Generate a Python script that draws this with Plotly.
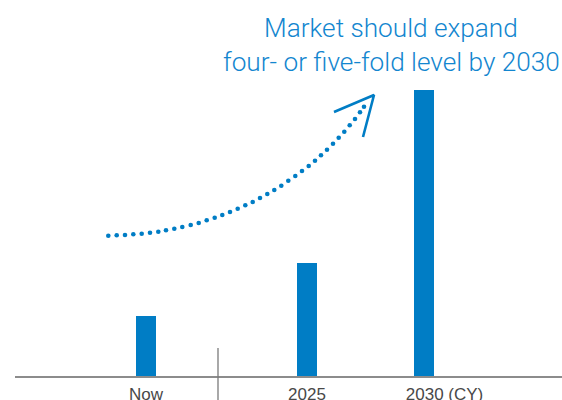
import plotly.graph_objects as go

# ---- data ----
categories = ["Now", "2025", "2030 (CY)"]
x_positions = [2018.12, 2025, 2030]
values = [1.0, 1.87, 4.70]

title_lines = ["Market should expand", "four- or five-fold level by 2030"]

# decorative dotted growth arrow (picture pixel space)
arrow_dots_x = [108.3, 116.7, 125.0, 133.3, 141.7, 150.0, 158.3, 166.0, 174.3, 182.3, 190.7, 198.7,
                206.7, 214.7, 222.3, 230.0, 237.7, 245.3, 252.7, 260.0, 267.3, 274.3, 281.3, 288.3,
                295.3, 302.0, 308.7, 315.0, 321.0, 327.0, 333.0, 338.7, 344.3, 349.7, 355.0, 360.0, 364.0]
arrow_dots_y = [235.7, 235.3, 235.0, 234.3, 233.7, 232.7, 231.7, 230.3, 228.7, 227.0, 225.0, 223.0,
                220.3, 217.7, 215.0, 212.0, 208.7, 205.3, 202.0, 198.0, 194.0, 190.0, 185.7, 180.7,
                176.0, 171.0, 166.0, 160.7, 155.3, 149.7, 143.7, 137.7, 131.7, 125.3, 119.0, 112.3, 106.7]
arrow_head_x = [334, 374, 363]
arrow_head_y = [112, 95, 137]

W, H = 562, 400
BLUE = "#007dc5"
TEXT_BLUE = "#1386cf"

def py(ref_y):            # picture y pixel -> paper fraction
    return 1 - ref_y / H

px_per_year = 117 / 5.0
x0 = 2025 - 307 / px_per_year
x1 = x0 + W / px_per_year
base = 377
px_per_unit = 61.0
y0 = -(H - base) / px_per_unit
y1 = base / px_per_unit

# "2030 (CY)" label: "2030" is centred on the bar, suffix runs to the right
label_shift_px = [0, 0, 20.5]
label_positions = [xp + s / px_per_year for xp, s in zip(x_positions, label_shift_px)]

fig = go.Figure()
fig.add_trace(go.Bar(
    x=x_positions, y=values, width=20 / px_per_year,
    marker=dict(color=BLUE, line=dict(width=0)),
    hoverinfo="skip", showlegend=False,
))
fig.add_trace(go.Scatter(
    x=arrow_dots_x, y=arrow_dots_y, mode="markers",
    marker=dict(color=BLUE, size=4.6, line=dict(width=0)),
    xaxis="x2", yaxis="y2", hoverinfo="skip", showlegend=False,
))
fig.add_trace(go.Scatter(
    x=arrow_head_x, y=arrow_head_y, mode="lines",
    line=dict(color=BLUE, width=2.6),
    xaxis="x2", yaxis="y2", hoverinfo="skip", showlegend=False,
))

fig.update_layout(
    width=W, height=H,
    margin=dict(l=0, r=0, t=0, b=0, pad=0, autoexpand=False),
    paper_bgcolor="white", plot_bgcolor="white",
    bargap=0,
    xaxis=dict(range=[x0, x1], tickvals=label_positions, ticktext=categories,
               showgrid=False, zeroline=False, showline=False, automargin=False,
               ticks="outside", ticklen=1.5, tickcolor="rgba(0,0,0,0)",
               anchor="free", position=py(377),
               tickfont=dict(family="Liberation Sans, Arial", size=17, color="#484848")),
    yaxis=dict(range=[y0, y1], visible=False, automargin=False),
    xaxis2=dict(range=[0, W], overlaying="x", visible=False, anchor="y2", automargin=False),
    yaxis2=dict(range=[H, 0], overlaying="y", visible=False, anchor="x2", automargin=False),
    shapes=[
        dict(type="line", xref="paper", yref="paper", x0=15 / W, x1=1,
             y0=py(377), y1=py(377), line=dict(color="#8c8c8c", width=2)),
        dict(type="line", xref="paper", yref="paper", x0=218 / W, x1=218 / W,
             y0=0, y1=py(348), line=dict(color="#7a7a7a", width=1.3)),
    ],
    annotations=[
        dict(text=title_lines[0], xref="paper", yref="paper", x=391 / W, y=py(28),
             xanchor="center", yanchor="middle", showarrow=False,
             font=dict(family="Roboto", size=26.2, color=TEXT_BLUE, weight=300)),
        dict(text=title_lines[1], xref="paper", yref="paper", x=391 / W, y=py(62),
             xanchor="center", yanchor="middle", showarrow=False,
             font=dict(family="Roboto", size=26.2, color=TEXT_BLUE, weight=300)),
    ],
)

fig.write_html(
    "out.html", config={"displayModeBar": False},
    post_script="document.body.style.margin='0px';"
                "document.documentElement.style.overflow='hidden';"
                "document.body.style.overflow='hidden';",
)
